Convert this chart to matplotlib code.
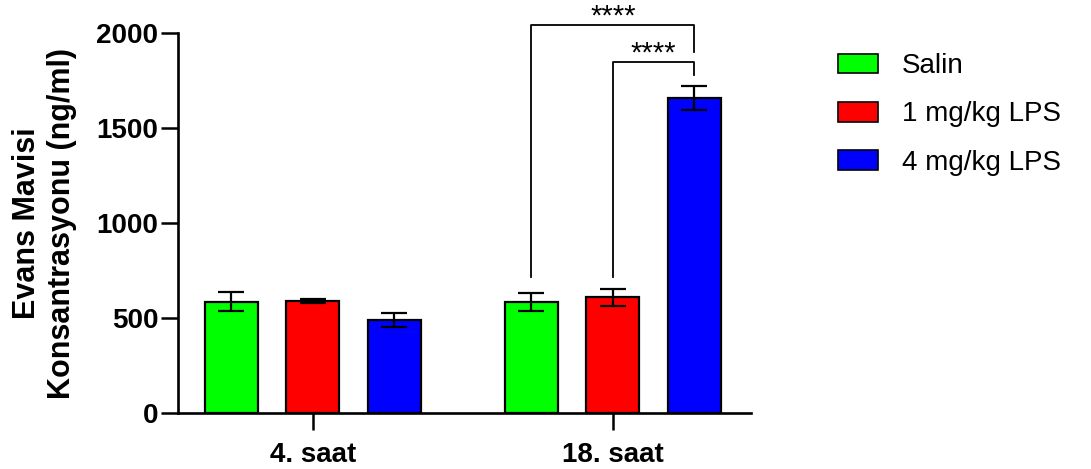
import numpy as np
import matplotlib.pyplot as plt
from matplotlib.patches import Patch

plt.rcParams['font.family'] = ['Liberation Sans', 'DejaVu Sans']

## data
groups = ['4. saat', '18. saat']
series = ['Salin', '1 mg/kg LPS', '4 mg/kg LPS']
colors = ['#00ff00', '#ff0000', '#0000ff']
means = [[585, 590, 490],
         [585, 610, 1655]]
errs = [[50, 10, 38],
        [48, 45, 63]]
stars = ['****', '****']

fig = plt.figure(figsize=(10.91, 4.69), dpi=100)
ax = fig.add_axes([0.163, 0.119, 0.525, 0.811])

groupX = np.array([0.0, 3.68])
barW = 0.65
for j in range(len(series)):
	xs = groupX + (j - 1)
	vals = [means[g][j] for g in range(len(groups))]
	ee = [errs[g][j] for g in range(len(groups))]
	ax.bar(xs, vals, width=barW, color=colors[j], edgecolor='black', linewidth=1.6, zorder=2)
	ax.errorbar(xs, vals, yerr=ee, fmt='none', ecolor='black', elinewidth=1.6,
				capsize=9.5, capthick=1.6, zorder=3)

ax.set_xlim(-1.656, 5.37)
ax.set_ylim(0, 2000)
ax.set_yticks([0, 500, 1000, 1500, 2000])
ax.set_xticks(groupX)
ax.set_xticklabels(groups, fontsize=20, fontweight='bold')
for lab in ax.get_yticklabels():
	lab.set_fontsize(20)
	lab.set_fontweight('bold')
ax.tick_params(axis='both', width=1.8, length=12)
ax.tick_params(axis='y', pad=2)
ax.tick_params(axis='x', pad=9)
for s in ['top', 'right']:
	ax.spines[s].set_visible(False)
for s in ['left', 'bottom']:
	ax.spines[s].set_linewidth(1.9)

ax.set_ylabel('Evans Mavisi\nKonsantrasyonu (ng/ml)', fontsize=22, fontweight='bold', labelpad=14)

# significance brackets (18. saat: Salin vs 4 mg, 1 mg vs 4 mg)
g2 = groupX[1]
def bracket(x1, x2, ylev, y1, y2, txt):
	ax.plot([x1, x1, x2, x2], [y1, ylev, ylev, y2], color='black', linewidth=1.3,
			clip_on=False, zorder=4)
	ax.text((x1 + x2) / 2, ylev - 30, txt, ha='center', va='bottom', fontsize=21,
			clip_on=False)

bracket(g2 - 1, g2 + 1, 2042, 716, 1900, stars[0])
bracket(g2, g2 + 1, 1847, 716, 1779, stars[1])

handles = [Patch(facecolor=colors[j], edgecolor='black', linewidth=1.2) for j in range(len(series))]
fig.legend(handles, series, loc='upper left', bbox_to_anchor=(0.745, 0.94), frameon=False,
		   fontsize=20, handlelength=1.44, handleheight=0.72, handletextpad=0.86, labelspacing=0.8)

plt.savefig('out.png', dpi=100)
